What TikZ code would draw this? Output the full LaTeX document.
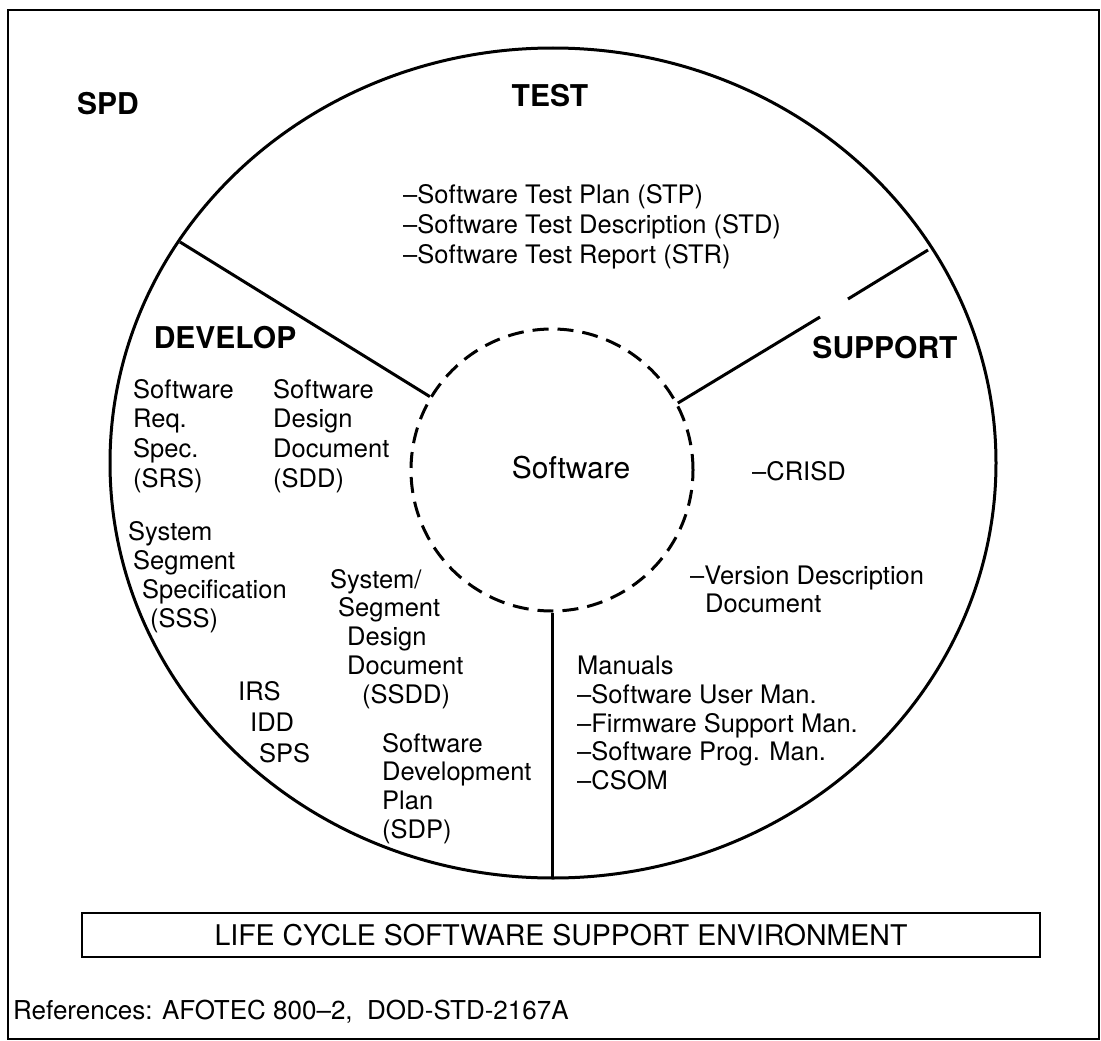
\documentclass[tikz,border=0pt]{standalone}
\usepackage{fontspec}
\setmainfont{TeX Gyre Heros}
\begin{document}
\begin{tikzpicture}[x=1pt,y=-1pt,
  rim/.style={line width=3pt},
  phase/.style={font=\fontsize{30}{34}\selectfont\bfseries, inner sep=0pt},
  doc/.style={font=\fontsize{25.5}{29}\selectfont, align=left, anchor=north west, inner sep=0pt},
  corelabel/.style={font=\fontsize{30}{34}\selectfont, inner sep=0pt},
]
\useasboundingbox (0,0) rectangle (1101,1041);
% outer frame
\draw[line width=2.5pt] (8,10) rectangle (1099,1039);

% the wheel and its hub
\coordinate (hub) at (553,463);
\draw[rim] (hub) ellipse [x radius=443pt, y radius=415pt];
\node[circle, draw, line width=3pt, dash pattern=on 16pt off 9pt,
      minimum size=282pt, inner sep=0pt] (core) at (552,470) {};
\node[corelabel] (sw) at (571,468) {Software};

% spokes between the hub and the rim
\coordinate (rimA) at (180,242);
\coordinate (rimB) at (928,250);
\coordinate (rimC) at (552,878);
\coordinate (gapA) at (820,317);
\coordinate (gapB) at (848,299);
\draw[rim] (core.149) -- (rimA);
\draw[rim] (core.28) -- (gapA);
\draw[rim] (gapB) -- (rimB);
\draw[rim] (core.270) -- (rimC);

% phase names
\node[phase] (spd) at (108,104) {SPD};
\node[phase] (test) at (550,96) {TEST};
\node[phase] (develop) at (225,338) {DEVELOP};
\node[phase] (support) at (885,348) {SUPPORT};

% TEST documents
\node[doc, font=\fontsize{25.5}{30}\selectfont] (testdocs) at (403,184)
  {--Software Test Plan (STP)\\--Software Test Description (STD)\\--Software Test Report (STR)};

% DEVELOP documents
\node[doc, font=\fontsize{25.5}{29.7}\selectfont] (srs) at (133,379) {Software\\Req.\\Spec.\\(SRS)};
\node[doc, font=\fontsize{25.5}{29.7}\selectfont] (sdd) at (273,379) {Software\\Design\\Document\\(SDD)};
\node[doc] (sss) at (128,521)
  {System\\\hspace*{5pt}Segment\\\hspace*{14pt}Specification\\\hspace*{22pt}(SSS)};
\node[doc, font=\fontsize{25.5}{28.7}\selectfont] (ssdd) at (330,569)
  {System/\\\hspace*{8pt}Segment\\\hspace*{17pt}Design\\\hspace*{17pt}Document\\\hspace*{32pt}(SSDD)};
\node[doc] (irs) at (238,681) {IRS};
\node[doc] (idd) at (250,713) {IDD};
\node[doc] (sps) at (259,743) {SPS};
\node[doc, font=\fontsize{25.5}{28.7}\selectfont] (sdp) at (382,733) {Software\\Development\\Plan\\(SDP)};

% SUPPORT documents
\node[doc] (crisd) at (752,461) {--CRISD};
\node[doc, font=\fontsize{25.5}{28}\selectfont] (vdd) at (690,566) {--Version Description\\\hspace*{15pt}Document};
\node[doc, font=\fontsize{25.5}{28.7}\selectfont] (manuals) at (577,656)
  {Manuals\\--Software User Man.\\--Firmware Support Man.\\--Software Prog. Man.\\--CSOM};

% environment banner and references
\node[draw, line width=2.5pt, minimum width=958pt, minimum height=44pt, inner sep=0pt,
      font=\fontsize{28.5}{31}\selectfont] (env) at (561,935)
  {LIFE CYCLE SOFTWARE SUPPORT ENVIRONMENT};
\node[anchor=west, inner sep=0pt, font=\fontsize{26}{29}\selectfont] (refs) at (13,1012)
  {References: AFOTEC 800--2,\ \ DOD-STD-2167A};
\end{tikzpicture}
\end{document}
